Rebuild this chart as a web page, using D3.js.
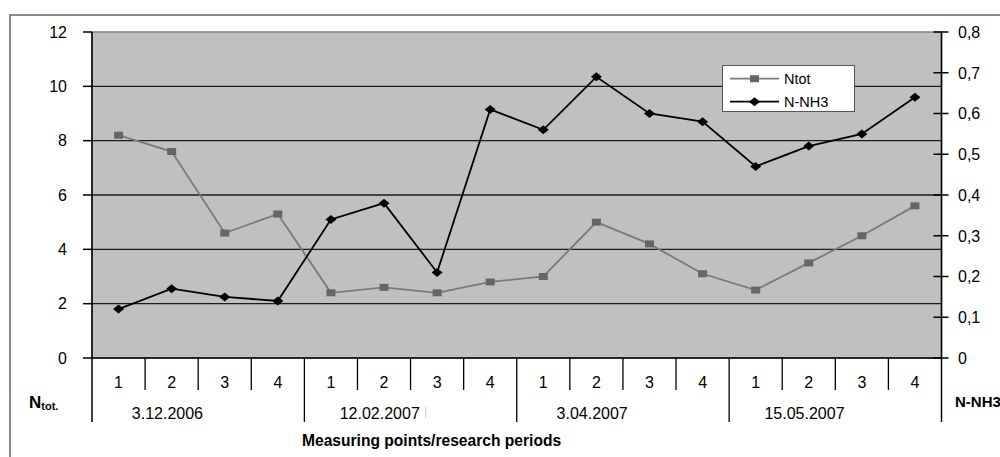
<!DOCTYPE html>
<html>
<head>
<meta charset="utf-8">
<script src="https://cdn.jsdelivr.net/npm/d3@7"></script>
<style>
  html, body { margin: 0; padding: 0; background: #ffffff; }
  svg { display: block; font-family: "Liberation Sans", Arial, sans-serif; }
</style>
</head>
<body>
<svg id="chart" width="1000" height="457"></svg>
<script>
// Measuring points (1–4) within each research period
const points = ["1", "2", "3", "4", "1", "2", "3", "4", "1", "2", "3", "4", "1", "2", "3", "4"];
const periods = ["3.12.2006", "12.02.2007", "3.04.2007", "15.05.2007"];

// Total nitrogen (left axis)
const ntot = [8.2, 7.6, 4.6, 5.3, 2.4, 2.6, 2.4, 2.8, 3.0, 5.0, 4.2, 3.1, 2.5, 3.5, 4.5, 5.6];
// Ammonium nitrogen (right axis)
const nnh3 = [0.12, 0.17, 0.15, 0.14, 0.34, 0.38, 0.21, 0.61, 0.56, 0.69, 0.60, 0.58, 0.47, 0.52, 0.55, 0.64];

const leftTicks = [0, 2, 4, 6, 8, 10, 12];
const rightTicks = [0, 0.1, 0.2, 0.3, 0.4, 0.5, 0.6, 0.7, 0.8];

const seriesNames = ["Ntot", "N-NH3"];

const svg = d3.select("#chart");

const plot = { left: 92, right: 941.5, top: 32, bottom: 358 };
const rowNum = 390;     // bottom of the measuring-point row
const rowGroup = 422;   // bottom of the period row
const tickFont = 16;

const x = d3.scaleBand()
  .domain(d3.range(points.length))
  .range([plot.left, plot.right])
  .paddingInner(0).paddingOuter(0);

const yL = d3.scaleLinear().domain([0, 12]).range([plot.bottom, plot.top]);
const yR = d3.scaleLinear().domain([0, 0.8]).range([plot.bottom, plot.top]);

const fmtR = v => d3.format(".1~f")(v).replace(".", ",");

// Outer chart frame
svg.append("rect")
  .attr("x", 10).attr("y", 15)
  .attr("width", 1100).attr("height", 500)
  .attr("fill", "#ffffff")
  .attr("stroke", "#8a8a8a").attr("stroke-width", 2);

// Plot area
svg.append("rect")
  .attr("x", plot.left).attr("y", plot.top)
  .attr("width", plot.right - plot.left).attr("height", plot.bottom - plot.top)
  .attr("fill", "#c0c0c0")
  .attr("stroke", "#808080").attr("stroke-width", 1.5);

// Horizontal gridlines
svg.append("g").selectAll("line")
  .data(leftTicks.filter(d => d > 0 && d < 12))
  .join("line")
  .attr("x1", plot.left).attr("x2", plot.right)
  .attr("y1", d => yL(d)).attr("y2", d => yL(d))
  .attr("stroke", "#1c1c1c").attr("stroke-width", 1.3);

// Axis lines (left, right, bottom)
const axisG = svg.append("g").attr("stroke", "#000").attr("stroke-width", 1.5);
axisG.append("line").attr("x1", plot.left).attr("x2", plot.left).attr("y1", plot.top).attr("y2", rowGroup);
axisG.append("line").attr("x1", plot.right).attr("x2", plot.right).attr("y1", plot.top).attr("y2", rowGroup);
axisG.append("line").attr("x1", plot.left).attr("x2", plot.right).attr("y1", plot.bottom).attr("y2", plot.bottom);

// Left ticks and labels
svg.append("g").selectAll("line")
  .data(leftTicks).join("line")
  .attr("x1", plot.left - 9).attr("x2", plot.left)
  .attr("y1", d => yL(d)).attr("y2", d => yL(d))
  .attr("stroke", "#000").attr("stroke-width", 1.5);
svg.append("g").selectAll("text")
  .data(leftTicks).join("text")
  .attr("x", 67).attr("y", d => yL(d))
  .attr("dy", "0.36em")
  .attr("text-anchor", "end")
  .attr("font-size", tickFont)
  .attr("fill", "#000")
  .text(d => d);

// Right ticks and labels
svg.append("g").selectAll("line")
  .data(rightTicks).join("line")
  .attr("x1", plot.right - 8).attr("x2", plot.right + 7)
  .attr("y1", d => yR(d)).attr("y2", d => yR(d))
  .attr("stroke", "#000").attr("stroke-width", 1.5);
svg.append("g").selectAll("text")
  .data(rightTicks).join("text")
  .attr("x", 958).attr("y", d => yR(d))
  .attr("dy", "0.36em")
  .attr("font-size", tickFont)
  .attr("fill", "#000")
  .text(d => fmtR(d));

// Category separators: measuring points row
svg.append("g").selectAll("line")
  .data(d3.range(1, points.length).filter(i => i % 4 !== 0))
  .join("line")
  .attr("x1", i => x(i)).attr("x2", i => x(i))
  .attr("y1", plot.bottom).attr("y2", rowNum)
  .attr("stroke", "#000").attr("stroke-width", 1.3);

// Period separators span both rows
svg.append("g").selectAll("line")
  .data(d3.range(1, periods.length))
  .join("line")
  .attr("x1", g => x(g * 4)).attr("x2", g => x(g * 4))
  .attr("y1", plot.bottom).attr("y2", rowGroup)
  .attr("stroke", "#000").attr("stroke-width", 1.3);

// Measuring point labels
svg.append("g").selectAll("text")
  .data(points).join("text")
  .attr("x", (d, i) => x(i) + x.bandwidth() / 2)
  .attr("y", 382)
  .attr("dy", "0.36em")
  .attr("text-anchor", "middle")
  .attr("font-size", tickFont)
  .attr("fill", "#000")
  .text(d => d);

// Research period labels
svg.append("g").selectAll("text")
  .data(periods).join("text")
  .attr("x", (d, g) => x(g * 4) + x.bandwidth() * 1.42)
  .attr("y", 413)
  .attr("dy", "0.36em")
  .attr("text-anchor", "middle")
  .attr("font-size", tickFont)
  .attr("fill", "#000")
  .text(d => d);

// Small stray marker after the second period label
svg.append("line")
  .attr("x1", x(4) + x.bandwidth() * 1.42 + 46).attr("x2", x(4) + x.bandwidth() * 1.42 + 46)
  .attr("y1", 407).attr("y2", 418)
  .attr("stroke", "#c8c8c8").attr("stroke-width", 1);

// Axis titles
const ntotTitle = svg.append("text")
  .attr("x", 29).attr("y", 408)
  .attr("font-weight", "bold")
  .attr("fill", "#000");
ntotTitle.append("tspan").attr("font-size", 17).text("N");
ntotTitle.append("tspan").attr("font-size", 11).attr("dy", 2).text("tot.");

svg.append("text")
  .attr("x", 955).attr("y", 407)
  .attr("font-weight", "bold")
  .attr("font-size", 15)
  .attr("fill", "#000")
  .text("N-NH3");

svg.append("text")
  .attr("x", 302).attr("y", 446)
  .attr("font-weight", "bold")
  .attr("font-size", 15.6)
  .attr("fill", "#000")
  .text("Measuring points/research periods");

// Series lines
const cx = i => x(i) + x.bandwidth() / 2;

const lineL = d3.line().x((d, i) => cx(i)).y(d => yL(d));
const lineR = d3.line().x((d, i) => cx(i)).y(d => yR(d));

svg.append("path")
  .datum(ntot)
  .attr("d", lineL)
  .attr("fill", "none")
  .attr("stroke", "#7a7a7a").attr("stroke-width", 1.8);

svg.append("path")
  .datum(nnh3)
  .attr("d", lineR)
  .attr("fill", "none")
  .attr("stroke", "#000").attr("stroke-width", 1.8);

// Markers
const square = (px, py) => `M${px - 4.5},${py - 3.5}h9v7h-9Z`;
const diamond = (px, py) => `M${px - 5.5},${py}L${px},${py - 4.5}L${px + 5.5},${py}L${px},${py + 4.5}Z`;

svg.append("g").selectAll("path")
  .data(ntot).join("path")
  .attr("d", (d, i) => square(cx(i), yL(d)))
  .attr("fill", "#666666");

svg.append("g").selectAll("path")
  .data(nnh3).join("path")
  .attr("d", (d, i) => diamond(cx(i), yR(d)))
  .attr("fill", "#000");

// Legend
const legend = svg.append("g");
legend.append("rect")
  .attr("x", 722.5).attr("y", 65.5)
  .attr("width", 132).attr("height", 46)
  .attr("fill", "#ffffff")
  .attr("stroke", "#555").attr("stroke-width", 1);

const legendRows = [
  { name: seriesNames[0], color: "#7a7a7a", marker: "#666666", shape: square, y: 78.7 },
  { name: seriesNames[1], color: "#000000", marker: "#000000", shape: diamond, y: 101.7 }
];
legendRows.forEach(r => {
  legend.append("line")
    .attr("x1", 730).attr("x2", 779)
    .attr("y1", r.y).attr("y2", r.y)
    .attr("stroke", r.color).attr("stroke-width", 1.8);
  legend.append("path")
    .attr("d", r.shape(754.5, r.y))
    .attr("fill", r.marker);
  legend.append("text")
    .attr("x", 784).attr("y", r.y)
    .attr("dy", "0.36em")
    .attr("font-size", 14.5)
    .attr("fill", "#000")
    .text(r.name);
});
</script>
</body>
</html>
